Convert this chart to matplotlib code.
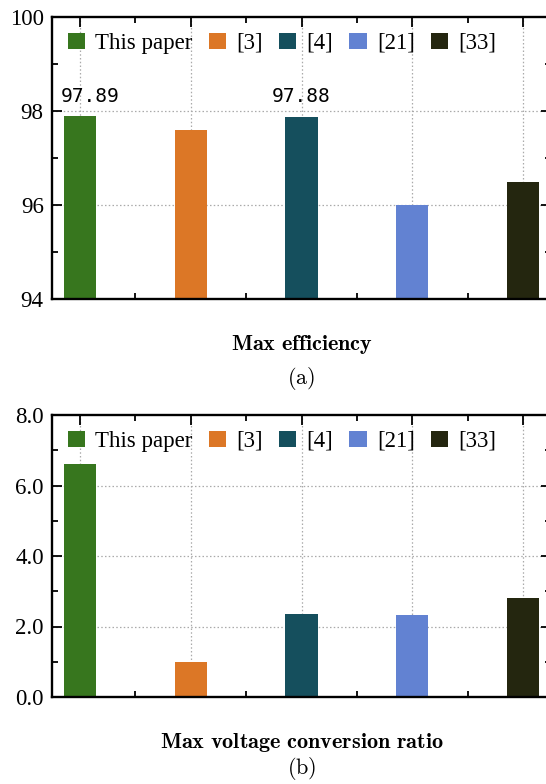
import matplotlib
matplotlib.use("Agg")
import matplotlib.pyplot as plt
from matplotlib.ticker import MultipleLocator, FormatStrFormatter
from matplotlib.patches import Patch

# Data
sources = ["This paper", "[3]", "[4]", "[21]", "[33]"]
colors = ["#37761e", "#dc7726", "#154f5d", "#6282d2", "#24260f"]
efficiency = [97.89, 97.6, 97.88, 96.0, 96.5]
efficiency_labels = {0: "97.89", 2: "97.88"}
conversion_ratio = [6.6, 1.0, 2.36, 2.33, 2.82]

eff_ticks = [94, 96, 98, 100]
ratio_ticks = [0.0, 2.0, 4.0, 6.0, 8.0]

plt.rcParams["font.family"] = ["Liberation Serif", "DejaVu Serif"]
plt.rcParams["mathtext.fontset"] = "cm"

W, H = 546, 784
fig = plt.figure(figsize=(W / 100, H / 100), dpi=100)

ax_left = 52 / W
ax_w = 499 / W
ax_h = 282 / H
ax1 = fig.add_axes([ax_left, 1 - 299 / H, ax_w, ax_h])
ax2 = fig.add_axes([ax_left, 1 - 697 / H, ax_w, ax_h])

bar_w = 0.29
xs = list(range(len(sources)))


def style_axes(ax, yticks, minor_step, fmt):
    ax.set_xlim(-0.253, len(sources) - 1 + 0.253)
    ax.set_ylim(yticks[0], yticks[-1])
    ax.set_xticks(xs)
    ax.set_xticklabels([])
    ax.xaxis.set_minor_locator(MultipleLocator(0.5))
    ax.set_yticks(yticks)
    ax.yaxis.set_major_formatter(FormatStrFormatter(fmt))
    ax.yaxis.set_minor_locator(MultipleLocator(minor_step))
    ax.tick_params(which="both", direction="in", top=True, right=True,
                   labelsize=16.5, width=1.3, pad=6)
    ax.tick_params(which="major", length=7)
    ax.tick_params(which="minor", length=4.5)
    for s in ax.spines.values():
        s.set_linewidth(1.7)
    # dotted grid kept beneath the bars
    for x in xs:
        ax.axvline(x, color="#aaaaaa", lw=0.9, ls=(0, (1.2, 1.8)), zorder=0.5)
    for y in yticks[1:-1]:
        ax.axhline(y, color="#aaaaaa", lw=0.9, ls=(0, (1.2, 1.8)), zorder=0.5)
    handles = [Patch(facecolor=c, edgecolor="none") for c in colors]
    ax.legend(handles, sources, loc="upper left", bbox_to_anchor=(0.032, 0.945),
              ncol=5, frameon=False, fontsize=16.5, handlelength=0.75,
              handleheight=0.75, handletextpad=0.45, columnspacing=0.7,
              borderpad=0, borderaxespad=0)


# (a) Max efficiency
ax1.bar(xs, [v - eff_ticks[0] for v in efficiency], bar_w, bottom=eff_ticks[0],
        color=colors, zorder=2)
style_axes(ax1, eff_ticks, 1, "%d")
label_shift = {0: 7, 2: 0}
for i, txt in efficiency_labels.items():
    ax1.annotate(txt, (xs[i], efficiency[i]), xytext=(label_shift[i], 7.5),
                 textcoords="offset points", ha="center", va="bottom",
                 family="DejaVu Sans Mono", fontsize=14)

cx = (52 + 551) / 2 / W
fig.text(cx, 1 - 345 / H, r"$\mathbf{Max\ efficiency}$",
         ha="center", va="center", fontsize=16)
fig.text(cx, 1 - 378 / H, r"$\mathrm{(a)}$",
         ha="center", va="center", fontsize=16)

# (b) Max voltage conversion ratio
ax2.bar(xs, conversion_ratio, bar_w, color=colors, zorder=2)
style_axes(ax2, ratio_ticks, 1, "%.1f")

fig.text(cx, 1 - 742 / H, r"$\mathbf{Max\ voltage\ conversion\ ratio}$",
         ha="center", va="center", fontsize=16)
fig.text(cx, 1 - 769 / H, r"$\mathrm{(b)}$",
         ha="center", va="center", fontsize=16)

fig.savefig("out.png", dpi=100)
